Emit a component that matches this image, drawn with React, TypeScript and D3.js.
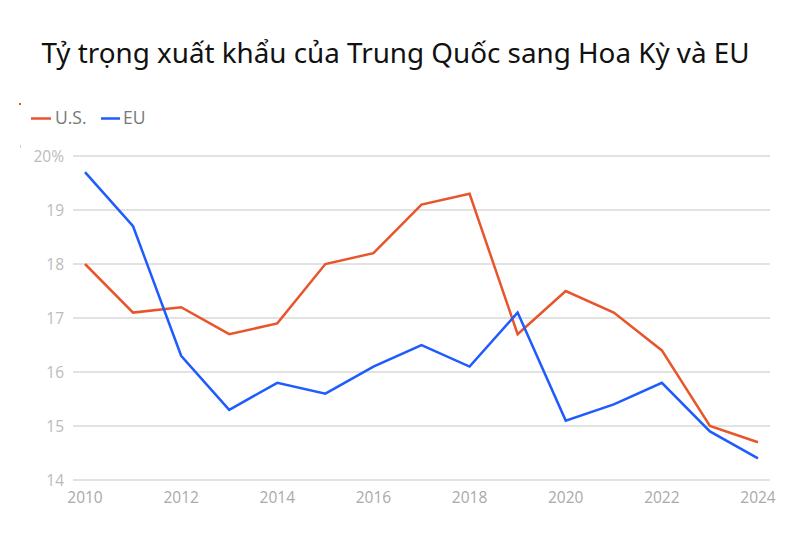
import React from "react";
import * as d3 from "d3";

const years = [2010, 2011, 2012, 2013, 2014, 2015, 2016, 2017, 2018, 2019, 2020, 2021, 2022, 2023, 2024];
const usValues = [18.0, 17.1, 17.2, 16.7, 16.9, 18.0, 18.2, 19.1, 19.3, 16.7, 17.5, 17.1, 16.4, 15.0, 14.7];
const euValues = [19.7, 18.7, 16.3, 15.3, 15.8, 15.6, 16.1, 16.5, 16.1, 17.1, 15.1, 15.4, 15.8, 14.9, 14.4];
const yTicks = [14, 15, 16, 17, 18, 19, 20];
const xTicks = [2010, 2012, 2014, 2016, 2018, 2020, 2022, 2024];
const title = "Tỷ trọng xuất khẩu của Trung Quốc sang Hoa Kỳ và EU";

const US_COLOR = "#e8552b";
const EU_COLOR = "#1f5bff";

export default function App() {
  const W = 810, H = 544;
  const x = d3.scaleLinear().domain([2010, 2024]).range([85, 758]);
  const y = d3.scaleLinear().domain([14, 20]).range([480, 156]);
  const line = d3.line<number>().x((_, i) => x(years[i])).y((d) => y(d));
  const font = "'Noto Sans', 'Open Sans', sans-serif";
  const tickFont = "'Open Sans', 'Noto Sans', sans-serif";

  return (
    <svg width={W} height={H} style={{ position: "absolute", left: 0, top: 0, background: "#fff" }}>
      <rect x={0} y={0} width={W} height={H} fill="#fff" />
      <text x={395.5} y={63} textAnchor="middle" fontFamily={font} fontSize={27.8} fill="#111">
        {title}
      </text>
      <rect x={19} y={103} width={2} height={2} fill={US_COLOR} />
      <rect x={20} y={145} width={1} height={3} fill="#ccc" />
      {/* legend */}
      <line x1={31} x2={51} y1={118.5} y2={118.5} stroke={US_COLOR} strokeWidth={2.5} />
      <text x={55} y={124} fontFamily={tickFont} fontSize={17.5} fill="#777">U.S.</text>
      <line x1={101} x2={120} y1={118.5} y2={118.5} stroke={EU_COLOR} strokeWidth={2.5} />
      <text x={123} y={124} fontFamily={tickFont} fontSize={17.5} fill="#777">EU</text>
      {/* grid */}
      {yTicks.map((t) => (
        <g key={t}>
          <line x1={73} x2={770} y1={y(t)} y2={y(t)} stroke="#d9d9d9" strokeWidth={1.5} />
          <text x={64} y={y(t) + 5.5} textAnchor="end" fontFamily={tickFont} fontSize={15.5} fill="#bbb">
            {t === 20 ? "20%" : String(t)}
          </text>
        </g>
      ))}
      {xTicks.map((t) => (
        <text key={t} x={x(t)} y={503} textAnchor="middle" fontFamily={tickFont} fontSize={15.5} fill="#aaa">
          {t}
        </text>
      ))}
      <path d={line(usValues) || ""} fill="none" stroke={US_COLOR} strokeWidth={2.5} strokeLinejoin="miter" />
      <path d={line(euValues) || ""} fill="none" stroke={EU_COLOR} strokeWidth={2.5} strokeLinejoin="miter" />
    </svg>
  );
}
